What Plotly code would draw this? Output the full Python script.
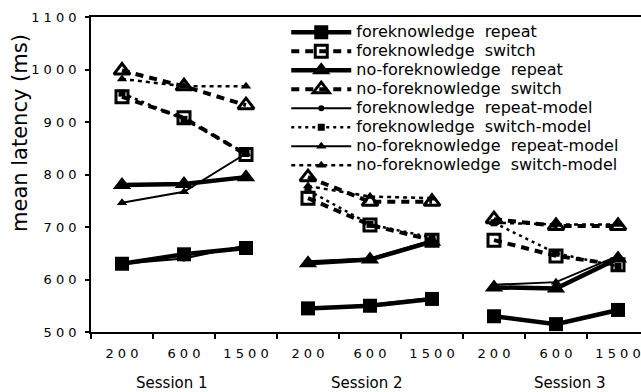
import plotly.graph_objects as go

# Design: three sessions x three SOA conditions
sessions = ["Session 1", "Session 2", "Session 3"]
soas = ["200", "600", "1500"]

# Mean latencies (ms), ordered Session 1 (200, 600, 1500), Session 2, Session 3
fk_repeat = [630, 648, 660, 545, 550, 563, 530, 515, 542]
fk_switch = [948, 908, 838, 755, 704, 675, 675, 645, 628]
nf_repeat = [780, 782, 795, 631, 638, 672, 585, 583, 640]
nf_switch = [998, 968, 932, 795, 748, 748, 715, 702, 702]

# Model predictions
fk_repeat_model = [630, 640, 665, 543, 552, 565, 530, 515, 542]
fk_switch_model = [955, 905, 840, 770, 705, 680, 708, 650, 625]
nf_repeat_model = [746, 767, 840, 635, 640, 675, 590, 595, 645]
nf_switch_model = [982, 968, 968, 778, 758, 755, 708, 705, 705]

y_ticks = [500, 600, 700, 800, 900, 1000, 1100]

FONT = "DejaVu Sans"
n_soa = len(soas)


def split_by_session(values):
    """Return x/y lists with a gap between sessions so lines break."""
    xs, ys = [], []
    for s in range(len(sessions)):
        for j in range(n_soa):
            xs.append(s * n_soa + j)
            ys.append(values[s * n_soa + j])
        if s < len(sessions) - 1:
            xs.append(None)
            ys.append(None)
    return xs, ys


def spaced(txt):
    return " ".join(txt)


def legend_name(txt):
    return '<span style="font-size:16px">' + txt + "</span>"


series = [
    ("foreknowledge  repeat", fk_repeat,
     dict(width=4.5, dash="solid"),
     dict(symbol="square", size=14, color="black")),
    ("foreknowledge  switch", fk_switch,
     dict(width=4, dash="8px,6px"),
     dict(symbol="square-open", size=12, color="black", line=dict(width=3, color="black"))),
    ("no-foreknowledge  repeat", nf_repeat,
     dict(width=4.5, dash="solid"),
     dict(symbol="triangle-up", size=16, color="black")),
    ("no-foreknowledge  switch", nf_switch,
     dict(width=4, dash="8px,6px"),
     dict(symbol="triangle-up-open", size=14, color="black", line=dict(width=3, color="black"))),
    ("foreknowledge  repeat-model", fk_repeat_model,
     dict(width=2, dash="solid"),
     dict(symbol="circle", size=6, color="black")),
    ("foreknowledge  switch-model", fk_switch_model,
     dict(width=2.5, dash="3px,4px"),
     dict(symbol="square", size=7, color="black")),
    ("no-foreknowledge  repeat-model", nf_repeat_model,
     dict(width=2, dash="solid"),
     dict(symbol="triangle-up", size=9, color="black")),
    ("no-foreknowledge  switch-model", nf_switch_model,
     dict(width=2.5, dash="4px,4px"),
     dict(symbol="triangle-up", size=9, color="black")),
]

fig = go.Figure()
for name, vals, line, marker in series:
    xs, ys = split_by_session(vals)
    fig.add_trace(go.Scatter(
        x=xs, y=ys, name=legend_name(name), mode="lines+markers",
        line=dict(color="black", **line), marker=marker,
        connectgaps=False, cliponaxis=False,
    ))

n_cat = len(sessions) * n_soa
boundaries = [k - 0.5 for k in range(n_cat + 1)]

fig.update_xaxes(
    range=[-0.5, 8.371],
    tickmode="array",
    tickvals=list(range(n_cat)),
    ticktext=[spaced(s) for s in soas] * len(sessions),
    ticks="",
    ticklabelstandoff=9,
    tickfont=dict(family=FONT, size=13, color="black"),
    minor=dict(tickmode="array", tickvals=boundaries, ticks="outside",
               ticklen=5, tickwidth=1.5, tickcolor="black"),
    showline=True, linecolor="black", linewidth=1.5, mirror=True,
    showgrid=False, zeroline=False,
)
fig.update_yaxes(
    range=[500, 1100],
    tickmode="array",
    tickvals=y_ticks,
    ticktext=[spaced(str(v)) for v in y_ticks],
    ticks="outside", ticklen=4, tickwidth=1.5, tickcolor="black",
    ticklabelstandoff=6,
    tickfont=dict(family=FONT, size=13, color="black"),
    showline=True, linecolor="black", linewidth=1.5,
    showgrid=False, zeroline=False,
)

# Session labels under the SOA tick labels
session_x = [0.80, 3.95, 7.23]
for label, xpos in zip(sessions, session_x):
    fig.add_annotation(
        x=xpos, xref="x", y=-0.162, yref="paper",
        text=label, showarrow=False, xanchor="center", yanchor="middle",
        font=dict(family=FONT, size=15, color="black"),
    )

# Y axis title
fig.add_annotation(
    x=-0.129, xref="paper", y=0.632, yref="paper",
    text="mean latency (ms)", textangle=-90, showarrow=False,
    xanchor="center", yanchor="middle",
    font=dict(family=FONT, size=21, color="black"),
)

fig.update_layout(
    width=641, height=392,
    margin=dict(l=91, r=0, t=17, b=60),
    paper_bgcolor="white", plot_bgcolor="white",
    font=dict(family=FONT, color="black"),
    showlegend=True,
    legend=dict(
        x=0.355, y=0.998, xanchor="left", yanchor="top",
        bgcolor="rgba(0,0,0,0)", borderwidth=0,
        font=dict(family=FONT, size=12, color="black"),
        itemwidth=60, tracegroupgap=0,
    ),
)

fig.write_html("out.html")
